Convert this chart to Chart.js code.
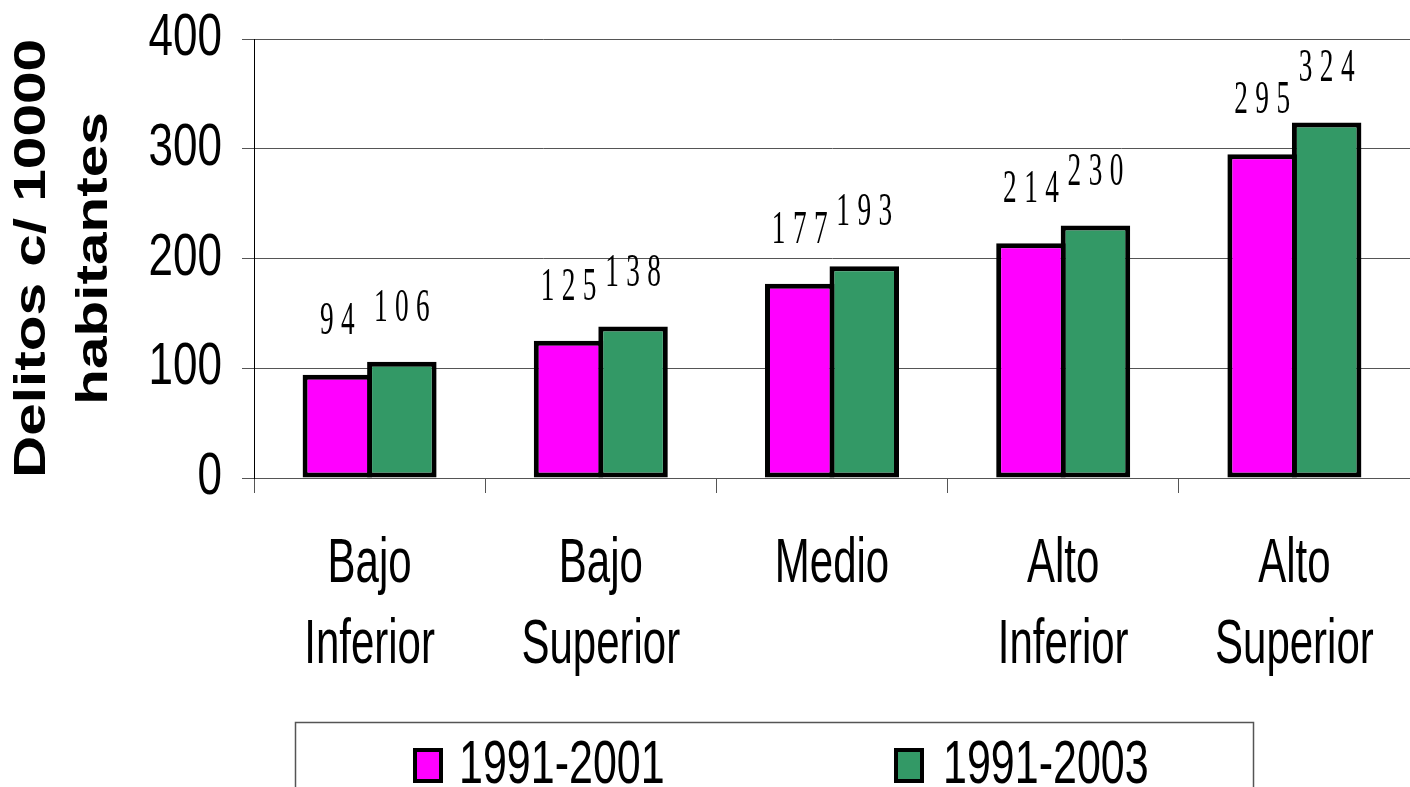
<!DOCTYPE html>
<html>
<head>
<meta charset="utf-8">
<script src="https://cdn.jsdelivr.net/npm/chart.js@4"></script>
<style>
html, body { margin: 0; padding: 0; background: #fff; overflow: hidden; }
#wrap { width: 1410px; height: 787px; }
</style>
</head>
<body>
<div id="wrap"><canvas id="delitos-chart"></canvas></div>
<script>
// datos
const categorias = [["Bajo", "Inferior"], ["Bajo", "Superior"], "Medio", ["Alto", "Inferior"], ["Alto", "Superior"]];
const periodos = ["1991-2001", "1991-2003"];
const tasas2001 = [94, 125, 177, 214, 295];
const tasas2003 = [106, 138, 193, 230, 324];
const ticksY = [0, 100, 200, 300, 400];
const tituloY = ["Delitos c/ 10000", "habitantes"];

const colores = ["#FF00FF", "#339966"];
const sans = '"Liberation Sans", Arial, sans-serif';

// texto estirado en vertical, como el original (fuente angosta y alta)
function tallText(ctx, text, x, y, size, sy, align) {
  ctx.save();
  ctx.translate(x, y);
  ctx.scale(1, sy);
  ctx.font = size + "px " + sans;
  ctx.fillStyle = "#000";
  ctx.textAlign = align;
  ctx.textBaseline = "alphabetic";
  ctx.fillText(text, 0, 0);
  ctx.restore();
}

// etiquetas de los ejes, dibujadas con las posiciones de las escalas
const axisLabels = {
  id: "axisLabels",
  afterDraw(chart) {
    const ctx = chart.ctx;
    const x = chart.scales.x, y = chart.scales.y;
    chart.data.labels.forEach((lab, i) => {
      const px = x.getPixelForTick(i);
      const lines = Array.isArray(lab) ? lab : [lab];
      lines.forEach((line, k) => tallText(ctx, line, px, 582 + k * 81, 42, 1.48, "center"));
    });
    y.ticks.forEach(t => {
      tallText(ctx, String(t.value), y.right - 32, y.getPixelForValue(t.value) + 16, 44, 1.33, "right");
    });
  }
};

// numeros sobre las barras (serif, estrechos y espaciados)
const valueLabels = {
  id: "valueLabels",
  afterDatasetsDraw(chart) {
    const ctx = chart.ctx;
    chart.data.datasets.forEach((ds, i) => {
      chart.getDatasetMeta(i).data.forEach((bar, j) => {
        const text = String(ds.data[j]);
        ctx.save();
        ctx.translate(bar.x, bar.y - 41);
        ctx.scale(0.62, 1.05);
        ctx.font = '44px "Liberation Serif", serif';
        ctx.fillStyle = "#000";
        ctx.textAlign = "left";
        ctx.textBaseline = "alphabetic";
        const gap = 12;
        const widths = text.split("").map(c => ctx.measureText(c).width);
        const total = widths.reduce((a, b) => a + b, 0) + gap * (widths.length - 1);
        let cx = -total / 2;
        text.split("").forEach((c, k) => {
          ctx.fillText(c, cx, 0);
          cx += widths[k] + gap;
        });
        ctx.restore();
      });
    });
  }
};

// titulo del eje y, estirado a lo largo como en el original
const axisTitle = {
  id: "axisTitle",
  afterDraw(chart) {
    const ctx = chart.ctx;
    const area = chart.chartArea;
    const cy = (area.top + area.bottom) / 2;
    const xs = [33, 95];
    tituloY.forEach((line, i) => {
      ctx.save();
      ctx.translate(xs[i], cy);
      ctx.rotate(-Math.PI / 2);
      ctx.scale(1.3, 1);
      ctx.font = "bold 45px " + sans;
      ctx.fillStyle = "#000";
      ctx.textAlign = "center";
      ctx.textBaseline = "middle";
      ctx.fillText(line, 0, 0);
      ctx.restore();
    });
  }
};

// leyenda con recuadro abajo
const boxLegend = {
  id: "boxLegend",
  afterDraw(chart) {
    const ctx = chart.ctx;
    ctx.save();
    ctx.strokeStyle = "#555";
    ctx.lineWidth = 1.5;
    ctx.strokeRect(295.5, 722.5, 958, 120);
    const boxX = [415, 896];
    const textX = [459, 943];
    chart.data.datasets.forEach((ds, i) => {
      ctx.fillStyle = ds.backgroundColor;
      ctx.fillRect(boxX[i], 750, 26, 31);
      ctx.strokeStyle = "#000";
      ctx.lineWidth = 4;
      ctx.strokeRect(boxX[i], 750, 26, 31);
      tallText(ctx, ds.label, textX[i], 783, 43, 1.4, "left");
    });
    ctx.restore();
  }
};

new Chart(document.getElementById("delitos-chart"), {
  type: "bar",
  data: {
    labels: categorias,
    datasets: [
      { label: periodos[0], data: tasas2001, backgroundColor: colores[0], borderColor: "#000", borderWidth: 5, borderSkipped: false },
      { label: periodos[1], data: tasas2003, backgroundColor: colores[1], borderColor: "#000", borderWidth: 5, borderSkipped: false }
    ]
  },
  options: {
    responsive: true,
    maintainAspectRatio: false,
    animation: false,
    categoryPercentage: 0.558,
    barPercentage: 1.0775,
    layout: { padding: { top: 39, left: 0, right: 0, bottom: 0 } },
    plugins: {
      legend: { display: false },
      tooltip: { enabled: false }
    },
    scales: {
      x: {
        grid: { drawOnChartArea: false, tickLength: 15, color: "#555", offset: true },
        border: { color: "#555" },
        ticks: { display: false, autoSkip: false },
        afterFit(scale) { scale.height = 309; }
      },
      y: {
        min: 0,
        max: 400,
        afterBuildTicks(scale) { scale.ticks = ticksY.map(v => ({ value: v })); },
        ticks: { display: false },
        grid: { color: "#555", tickLength: 12 },
        border: { color: "#000" },
        afterFit(scale) { scale.width = 254; }
      }
    }
  },
  plugins: [valueLabels, axisLabels, axisTitle, boxLegend]
});
</script>
</body>
</html>
